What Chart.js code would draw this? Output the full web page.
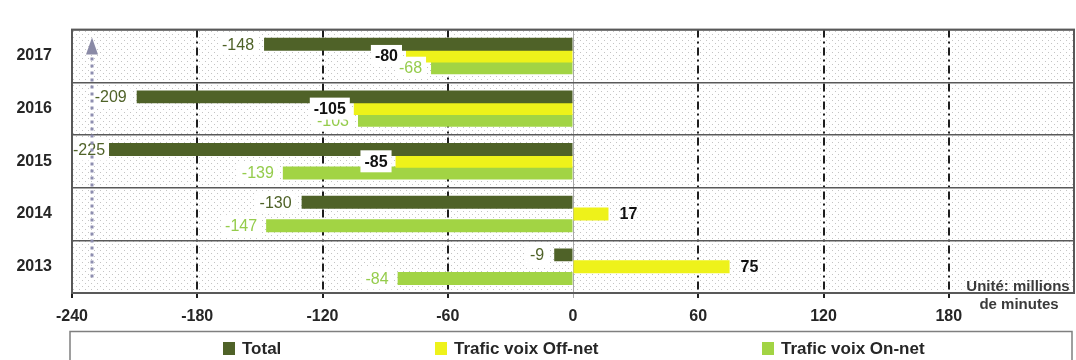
<!DOCTYPE html>
<html lang="fr">
<head>
  <meta charset="UTF-8">
  <title>Trafic voix - variations</title>
  <script src="https://cdn.jsdelivr.net/npm/chart.js"></script>
  <style>
    html, body { margin: 0; padding: 0; background: #fff; }
    #wrap { width: 1076px; height: 360px; position: relative; }
  </style>
</head>
<body>
  <div id="wrap"><canvas id="trafficChart"></canvas></div>

  <script>
    // Data (millions de minutes)
    var categories = ['2017', '2016', '2015', '2014', '2013'];
    var totalValues = [-148, -209, -225, -130, -9];
    var offNetValues = [-80, -105, -85, 17, 75];
    var onNetValues = [-68, -103, -139, -147, -84];
    var xTickValues = [-240, -180, -120, -60, 0, 60, 120, 180];
    var seriesNames = ['Total', 'Trafic voix Off-net', 'Trafic voix On-net'];
    var seriesColors = ['#4f6228', '#eef21a', '#a2d444'];
    var unitLines = ['Unité: millions', 'de minutes'];

    var FONT = '"Liberation Sans", Arial, sans-serif';

    // dotted background of the plot area
    function makeDots() {
      var c = document.createElement('canvas');
      c.width = 6; c.height = 6;
      var g = c.getContext('2d');
      g.fillStyle = '#ffffff';
      g.fillRect(0, 0, 6, 6);
      g.fillStyle = '#c4c4c4';
      g.fillRect(1, 1, 1, 1);
      g.fillRect(4, 4, 1, 1);
      return c;
    }

    // label look for each series
    var labelStyles = [
      { font: '16px ' + FONT, color: '#4f6228', gap: 10, box: true },
      { font: 'bold 16px ' + FONT, color: '#111111', gap: 8, box: true },
      { font: '16px ' + FONT, color: '#95cc4c', gap: 9, box: true }
    ];

    var decorPlugin = {
      id: 'decor',
      beforeDraw: function(chart) {
        var ctx = chart.ctx, a = chart.chartArea;
        ctx.save();
        ctx.fillStyle = ctx.createPattern(makeDots(), 'repeat');
        ctx.fillRect(a.left, a.top, a.right - a.left, a.bottom - a.top);
        ctx.restore();
      },
      afterDatasetsDraw: function(chart) {
        var ctx = chart.ctx, a = chart.chartArea;
        ctx.save();
        ctx.textBaseline = 'middle';
        ctx.textAlign = 'left';
        [0, 2, 1].forEach(function(di) {
          var meta = chart.getDatasetMeta(di);
          var st = labelStyles[di];
          meta.data.forEach(function(bar, i) {
            var v = chart.data.datasets[di].data[i];
            var txt = String(v);
            ctx.font = st.font;
            var w = ctx.measureText(txt).width;
            var x;
            if (v < 0) {
              x = bar.x - st.gap - w;
              if (x < a.left + 1) x = a.left + 1;
              if (st.box) {
                ctx.fillStyle = '#ffffff';
                ctx.fillRect(x - 4, bar.y - 11, w + 8, 22);
              }
            } else {
              x = bar.x + st.gap + 3;
            }
            ctx.fillStyle = st.color;
            ctx.fillText(txt, x, bar.y + 1);
          });
        });
        ctx.restore();
      },
      afterDraw: function(chart) {
        var ctx = chart.ctx, a = chart.chartArea;
        ctx.save();
        // plot frame
        ctx.strokeStyle = '#595959';
        ctx.lineWidth = 2;
        ctx.strokeRect(a.left, a.top, a.right - a.left, a.bottom - a.top);

        // unit note
        ctx.fillStyle = '#3a3a3a';
        ctx.font = 'bold 15px ' + FONT;
        ctx.textAlign = 'center';
        ctx.textBaseline = 'middle';
        ctx.fillText(unitLines[0], a.right - 56, a.bottom - 6);
        ctx.fillText(unitLines[1], a.right - 55, a.bottom + 12);

        // dotted arrow on the left
        var ax = a.left + 20;
        ctx.strokeStyle = '#8e8eb0';
        ctx.lineWidth = 3;
        ctx.setLineDash([3, 4]);
        ctx.beginPath();
        ctx.moveTo(ax, a.top + 28);
        ctx.lineTo(ax, a.bottom - 12);
        ctx.stroke();
        ctx.setLineDash([]);
        ctx.fillStyle = '#8a8aa6';
        ctx.beginPath();
        ctx.moveTo(ax, a.top + 8);
        ctx.lineTo(ax - 6, a.top + 25);
        ctx.lineTo(ax + 6, a.top + 25);
        ctx.closePath();
        ctx.fill();

        // legend box
        var top = a.bottom + 38;
        ctx.strokeStyle = '#7f7f7f';
        ctx.lineWidth = 1.5;
        ctx.strokeRect(a.left - 2, top + 0.5, a.right - a.left, 60);
        var itemX = [223, 435, 762];
        var cy = top + 17;
        ctx.font = 'bold 17px ' + FONT;
        ctx.textAlign = 'left';
        chart.data.datasets.forEach(function(ds, i) {
          ctx.fillStyle = ds.backgroundColor;
          ctx.fillRect(itemX[i], cy - 6, 12, 13);
          ctx.fillStyle = '#262626';
          ctx.fillText(ds.label, itemX[i] + 19, cy + 1);
        });
        ctx.restore();
      }
    };

    var ctx = document.getElementById('trafficChart').getContext('2d');
    new Chart(ctx, {
      type: 'bar',
      data: {
        labels: categories,
        datasets: [
          { label: seriesNames[0], data: totalValues, backgroundColor: seriesColors[0] },
          { label: seriesNames[1], data: offNetValues, backgroundColor: seriesColors[1] },
          { label: seriesNames[2], data: onNetValues, backgroundColor: seriesColors[2] }
        ]
      },
      options: {
        indexAxis: 'y',
        responsive: true,
        maintainAspectRatio: false,
        animation: false,
        categoryPercentage: 0.67,
        barPercentage: 1.1,
        layout: { padding: { top: 12, right: 2, bottom: 29, left: 0 } },
        plugins: {
          legend: { display: false },
          tooltip: { enabled: false }
        },
        scales: {
          x: {
            min: -240,
            max: 240,
            afterBuildTicks: function(scale) {
              scale.ticks = xTickValues.map(function(v) { return { value: v }; });
            },
            afterFit: function(scale) { scale.height = 38; },
            grid: {
              color: function(c) { return c.tick && c.tick.value === 0 ? '#a8a8a8' : '#1e1e1e'; },
              lineWidth: function(c) { return c.tick && c.tick.value === 0 ? 1 : 2; },
              tickLength: 5
            },
            border: {
              display: false,
              dash: function(c) { return c.tick && c.tick.value === 0 ? [] : [8, 4, 2, 4]; }
            },
            ticks: {
              padding: 9,
              color: '#262626',
              font: { family: FONT, size: 16, weight: 'bold' }
            }
          },
          y: {
            afterFit: function(scale) { scale.width = 72; },
            grid: { color: '#595959', lineWidth: 1.5, drawTicks: false },
            border: { display: false },
            ticks: {
              padding: 20,
              color: '#262626',
              font: { family: FONT, size: 16, weight: 'bold' }
            }
          }
        }
      },
      plugins: [decorPlugin]
    });
  </script>
</body>
</html>
